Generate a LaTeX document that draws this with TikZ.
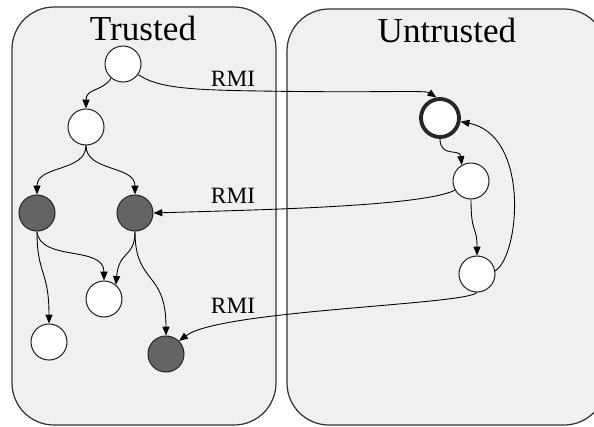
\documentclass[tikz,border=0pt]{standalone}
\usepackage{fontspec}
\setmainfont{Liberation Serif}
\usetikzlibrary{arrows.meta}
\definecolor{zonefill}{HTML}{F0F0F0}
\definecolor{zoneline}{HTML}{333333}
\definecolor{darkobj}{HTML}{646464}

\begin{document}
\begin{tikzpicture}[x=0.02cm,y=-0.02cm,
  zone/.style={draw=zoneline,fill=zonefill,line width=0.7pt,rounded corners=0.84cm},
  obj/.style={circle,draw=black!85,fill=white,line width=0.6pt,minimum size=0.72cm,inner sep=0pt},
  remote/.style={obj,fill=darkobj},
  entry/.style={obj,line width=2.2pt,minimum size=0.76cm},
  call/.style={-{Triangle[length=5pt,width=4pt]},line width=0.5pt},
  title/.style={font=\fontsize{20}{24}\selectfont,anchor=base},
  rmi/.style={font=\fontsize{13.3}{16}\selectfont,anchor=base}]
\clip (0,0) rectangle (594,426);
\draw[zone] (12,7) rectangle (276,425);
\draw[zone] (287,9) rectangle (606,425);
\node[title] (trusted) at (143,40) {Trusted};
\node[title] (untrusted) at (447,42) {Untrusted};

\node[obj] (t1) at (123,64) {};
\node[obj] (t2) at (86,127) {};
\node[remote] (t3) at (37,213) {};
\node[remote] (t4) at (135,213) {};
\node[obj] (t5) at (104,299) {};
\node[obj] (t6) at (49,342) {};
\node[remote] (t7) at (166,354) {};
\node[entry] (u1) at (440,118) {};
\node[obj] (u2) at (471,181) {};
\node[obj] (u3) at (477,274) {};

\node[rmi] (rmiA) at (233,86) {RMI};
\node[rmi] (rmiB) at (233,203) {RMI};
\node[rmi] (rmiC) at (233,313) {RMI};

\draw[call] (t1.-130) .. controls (102,92) and (86,88) .. (t2.north);
\draw[call] (t1.-35) .. controls (158,88) and (190,90) .. (260,91)
  .. controls (380,93) and (425,90) .. (u1.100);
\draw[call] (t2.south) .. controls (86,172) and (37,165) .. (t3.north);
\draw[call] (t2.south) .. controls (86,172) and (135,165) .. (t4.north);
\draw[call] (u2.-150) .. controls (420,207) and (250,210) .. (t4.east);
\draw[call] (t3.south) .. controls (37,275) and (49,270) .. (t6.north);
\draw[call] (t3.south) .. controls (40,262) and (104,245) .. (t5.north);
\draw[call] (t4.south) .. controls (135,258) and (119,250) .. (t5.50);
\draw[call] (t4.south) .. controls (135,285) and (166,270) .. (t7.north);
\draw[call] (u1.south) .. controls (440,158) and (460,148) .. (u2.120);
\draw[call] (u2.south) .. controls (471,235) and (477,225) .. (u3.north);
\draw[call] (u3.10) .. controls (520,255) and (530,135) .. (u1.-10);
\draw[call] (u3.south) .. controls (465,305) and (220,310) .. (t7.45);
\end{tikzpicture}
\end{document}
